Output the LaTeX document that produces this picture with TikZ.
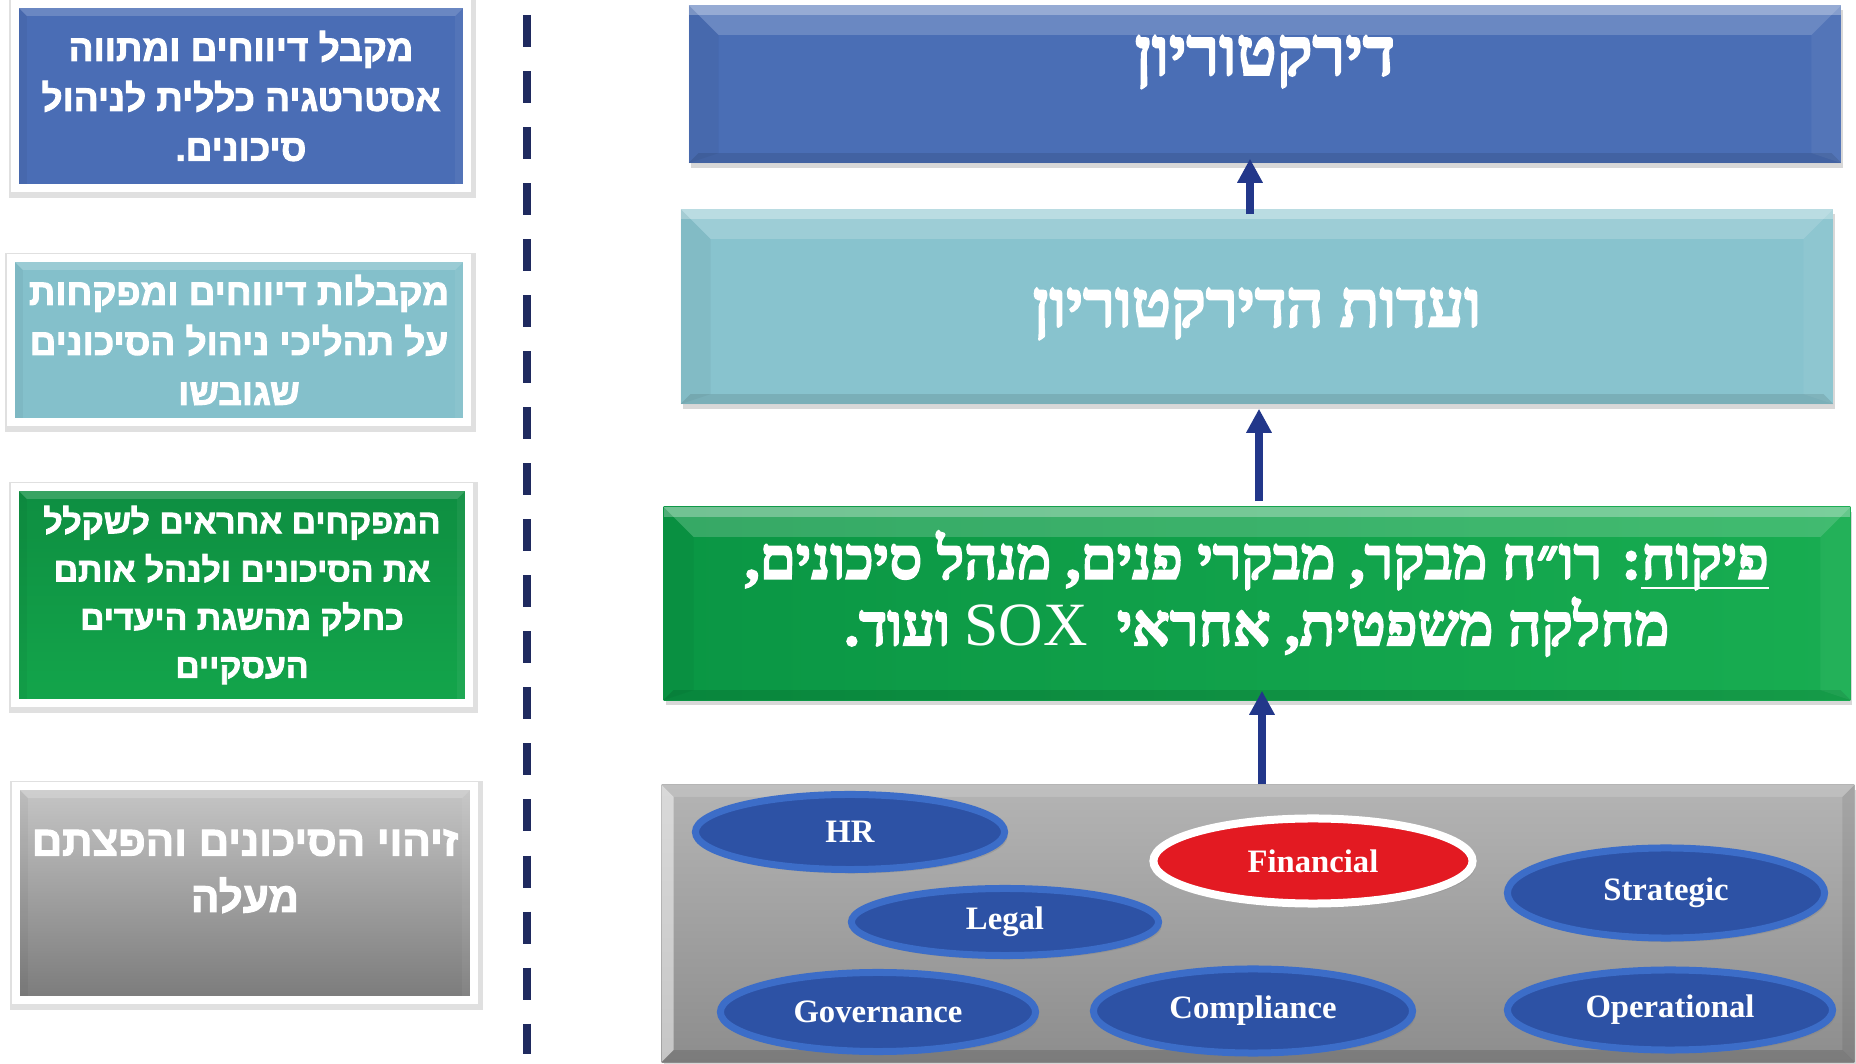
\documentclass[tikz,border=0pt]{standalone}
\usepackage{fontspec}
\setmainfont{Liberation Serif}
\newfontfamily\hebsans[Script=Hebrew,FakeBold=2.5]{Liberation Sans Bold}
\newfontfamily\hebserif[Script=Hebrew,FakeBold=3]{Liberation Serif Bold}
\TeXXeTstate=1
\usetikzlibrary{arrows.meta,positioning,shapes.geometric,shadows}

\definecolor{boardblue}{HTML}{4A6EB5}
\definecolor{commteal}{HTML}{88C3CE}
\definecolor{supgreen}{HTML}{0A9644}
\definecolor{supgreenlt}{HTML}{18AD51}
\definecolor{riskgraytop}{HTML}{B4B4B4}
\definecolor{riskgraybot}{HTML}{8D8D8D}
\definecolor{sideblue}{HTML}{4A6DB5}
\definecolor{sideteal}{HTML}{84C0CB}
\definecolor{sidegreentop}{HTML}{0E8E41}
\definecolor{sidegreenbot}{HTML}{13A54B}
\definecolor{sidegraytop}{HTML}{C6C6C6}
\definecolor{sidegraybot}{HTML}{7B7B7B}
\definecolor{ellblue}{HTML}{2D52A5}
\definecolor{ellrim}{HTML}{3C6DC8}
\definecolor{finred}{HTML}{E31A22}
\definecolor{arrownavy}{HTML}{22378A}
\definecolor{sepnavy}{HTML}{1F2A5F}

% bevelled edges of the boxes, #1 = width of the bevel
\tikzset{
  bevel/.style={path picture={
      \coordinate (nw) at (path picture bounding box.north west);
      \coordinate (ne) at (path picture bounding box.north east);
      \coordinate (sw) at (path picture bounding box.south west);
      \coordinate (se) at (path picture bounding box.south east);
      \fill[white,opacity=.18] (nw) -- (ne) -- ([xshift=-#1,yshift=-#1]ne) -- ([xshift=#1,yshift=-#1]nw) -- cycle;
      \fill[white,opacity=.3] (nw) rectangle ([yshift=-#1/3]ne);
      \fill[black,opacity=.1] (sw) -- (se) -- ([xshift=-#1/3,yshift=#1/3]se) -- ([xshift=#1/3,yshift=#1/3]sw) -- cycle;
      \fill[black,opacity=.04] (nw) -- ([xshift=#1,yshift=-#1]nw) -- ([xshift=#1,yshift=#1/3]sw) -- (sw) -- cycle;
      \fill[white,opacity=.05] (ne) -- ([xshift=-#1,yshift=-#1]ne) -- ([xshift=-#1,yshift=#1/3]se) -- (se) -- cycle;
    }},
  litbevel/.style={path picture={
      \coordinate (nw) at (path picture bounding box.north west);
      \coordinate (ne) at (path picture bounding box.north east);
      \coordinate (sw) at (path picture bounding box.south west);
      \coordinate (se) at (path picture bounding box.south east);
      \fill[white,opacity=.15] (nw) -- (ne) -- ([xshift=-#1,yshift=-#1]ne) -- ([xshift=#1,yshift=-#1]nw) -- cycle;
      \fill[white,opacity=.5] (nw) -- ([xshift=#1,yshift=-#1]nw) -- ([xshift=#1,yshift=#1]sw) -- (sw) -- cycle;
      \fill[black,opacity=.08] (ne) -- ([xshift=-#1,yshift=-#1]ne) -- ([xshift=-#1,yshift=#1]se) -- (se) -- cycle;
      \fill[black,opacity=.12] (sw) -- (se) -- ([xshift=-#1,yshift=#1]se) -- ([xshift=#1,yshift=#1]sw) -- cycle;
    }},
}

\begin{document}
\begin{tikzpicture}[x=0.01cm, y=-0.01cm,
  side/.style={rectangle, inner sep=0pt, draw=white, line width=0.08cm, text=white, align=center,
    preaction={draw=black!12, line width=0.15cm, transform canvas={xshift=0.015cm, yshift=-0.025cm}},
    font=\hebsans\fontsize{10.5}{14.2}\selectfont},
  tier/.style={rectangle, inner sep=0pt, text=white, bevel=0.3cm,
    drop shadow={opacity=0.3, shadow xshift=0.02cm, shadow yshift=-0.05cm},
    font=\hebserif\fontsize{19}{22}\selectfont},
  risk/.style={ellipse, inner sep=0pt, fill=ellblue, draw=ellrim, line width=0.07cm, text=white,
    drop shadow={opacity=0.35, shadow xshift=0.03cm, shadow yshift=-0.04cm},
    font=\bfseries\fontsize{9.3}{11}\selectfont},
  up/.style={draw=arrownavy, line width=0.08cm, -{Triangle[width=0.24cm, length=0.24cm]}},
  sepline/.style={draw=sepnavy, line width=0.08cm, dash pattern=on 0.32cm off 0.24cm}]

  \path[use as bounding box, fill=white] (0,0) rectangle (1856,1064);

  % roles, left column
  \node[side, fill=sideblue, bevel=0.12cm, minimum width=4.52cm, minimum height=1.84cm] (boardrole) at (241,96)
    {\beginR מקבל דיווחים ומתווה\endR\\ \beginR אסטרטגיה כללית לניהול\endR\\ \beginR סיכונים.\endR};
  \node[side, fill=sideteal, bevel=0.12cm, minimum width=4.56cm, minimum height=1.64cm] (committeerole) at (239,340)
    {\beginR מקבלות דיווחים ומפקחות\endR\\ \beginR על תהליכי ניהול הסיכונים\endR\\ \beginR שגובשו\endR};
  \node[side, top color=sidegreentop, bottom color=sidegreenbot, bevel=0.12cm, minimum width=4.54cm, minimum height=2.16cm,
    font=\hebsans\fontsize{9.6}{13.7}\selectfont] (supervisorrole) at (242,595)
    {\beginR המפקחים אחראים לשקלל\endR\\ \beginR את הסיכונים ולנהל אותם\endR\\ \beginR כחלק מהשגת היעדים\endR\\ \beginR העסקיים\endR};
  \node[side, top color=sidegraytop, bottom color=sidegraybot, bevel=0.12cm, minimum width=4.58cm, minimum height=2.14cm,
    font=\hebsans\fontsize{12}{16}\selectfont] (riskrole) at (245,893)
    {\raisebox{0.1cm}[0pt][0pt]{\begin{tabular}{@{}c@{}}
      \beginR זיהוי הסיכונים והפצתם\endR\\ \beginR מעלה\endR
    \end{tabular}}};

  % separator
  \coordinate (septop) at (527,15);
  \coordinate (sepbot) at (527,1054);
  \draw[sepline] (septop) -- (sepbot);

  % hierarchy, right column
  \node[tier, fill=boardblue, minimum width=11.52cm, minimum height=1.58cm] (board) at (1265,84)
    {\raisebox{0.09cm}[0pt][0pt]{\beginR דירקטוריון\endR}};
  \node[tier, fill=commteal, minimum width=11.52cm, minimum height=1.95cm, font=\hebserif\fontsize{18.5}{22}\selectfont] (committees) at (1257,306.5)
    {\raisebox{-0.2cm}[0pt][0pt]{\beginR ועדות הדירקטוריון\endR}};
  \node[tier, left color=supgreen, right color=supgreenlt, minimum width=11.86cm, minimum height=1.93cm,
    font=\hebserif\fontsize{16.6}{17.6}\selectfont] (oversight) at (1257,603.5)
    {\raisebox{-0.09cm}[0pt][0pt]{\begin{tabular}{@{}c@{}}
      \beginR\underline{\raisebox{0pt}[\height][1.2pt]{פיקוח}}: רו״ח מבקר, מבקרי פנים, מנהל סיכונים,\endR\\
      \beginR מחלקה משפטית, אחראי\ \ \beginL{\rmfamily\fontsize{17.5}{17.6}\selectfont SOX}\endL{} ועוד.\endR
    \end{tabular}}};
  \node[tier, top color=riskgraytop, bottom color=riskgraybot, litbevel=0.12cm, minimum width=11.92cm, minimum height=2.77cm] (risks) at (1258,923.5) {};

  % risk types
  \node[risk, minimum width=3.09cm, minimum height=0.75cm] (hr) at (850,832) {HR};
  \node[risk, minimum width=3.07cm, minimum height=0.67cm] (legal) at (1005,922) {Legal};
  \node[risk, fill=finred, draw=white, line width=0.08cm, minimum width=3.19cm, minimum height=0.85cm] (financial) at (1313,861) {Financial};
  \node[risk, minimum width=3.17cm, minimum height=0.9cm] (strategic) at (1666,893) {Strategic};
  \node[risk, minimum width=3.15cm, minimum height=0.79cm] (governance) at (878,1012) {Governance};
  \node[risk, minimum width=3.19cm, minimum height=0.84cm] (compliance) at (1253,1011) {Compliance};
  \node[risk, minimum width=3.25cm, minimum height=0.8cm] (operational) at (1670,1010) {Operational};

  % reporting lines
  \draw[up, shorten <=-0.06cm, shorten >=-0.05cm] ([xshift=-0.07cm]committees.north) -- ([xshift=-0.07cm]committees.north |- board.south);
  \draw[up, shorten <=0.05cm, shorten >=0.04cm] ([xshift=0.02cm]oversight.north) -- ([xshift=0.02cm]oversight.north |- committees.south);
  \draw[up, shorten >=-0.1cm] ([xshift=0.04cm]risks.north) -- ([xshift=0.04cm]risks.north |- oversight.south);
\end{tikzpicture}
\end{document}
